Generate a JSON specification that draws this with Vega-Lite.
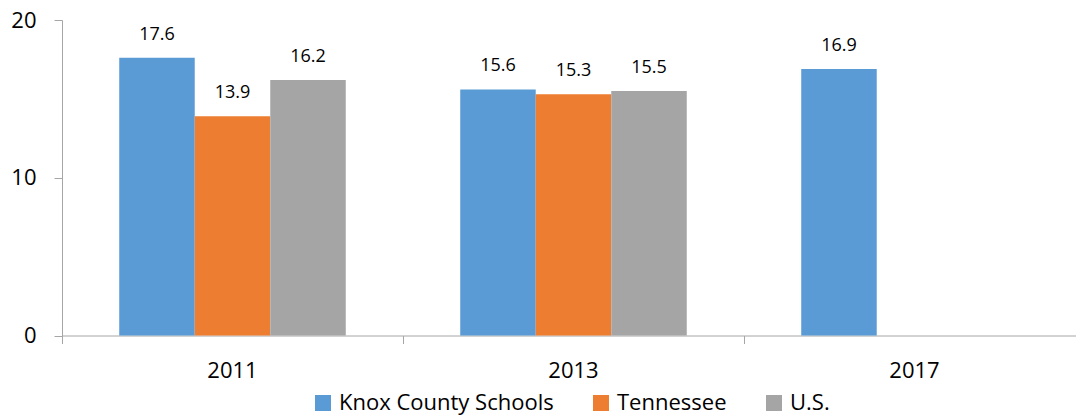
{
  "$schema": "https://vega.github.io/schema/vega-lite/v6.json",
  "autosize": {"type": "none"},
  "width": 1014,
  "height": 315.5,
  "padding": {"left": 62, "top": 20, "right": 0, "bottom": 81.5},
  "background": "white",
  "config": {
    "font": "Open Sans",
    "view": {"stroke": null}
  },
  "data": {
    "values": [
      {"year": "2011", "group": "Knox County Schools", "value": 17.6},
      {"year": "2011", "group": "Tennessee", "value": 13.9},
      {"year": "2011", "group": "U.S.", "value": 16.2},
      {"year": "2013", "group": "Knox County Schools", "value": 15.6},
      {"year": "2013", "group": "Tennessee", "value": 15.3},
      {"year": "2013", "group": "U.S.", "value": 15.5},
      {"year": "2017", "group": "Knox County Schools", "value": 16.9}
    ]
  },
  "encoding": {
    "x": {
      "field": "year",
      "type": "nominal",
      "scale": {"domain": ["2011", "2013", "2017"], "range": [0, 1023], "paddingInner": 0, "paddingOuter": 0},
      "axis": {
        "title": null,
        "labelAngle": 0,
        "bandPosition": 0,
        "tickSize": 8,
        "tickColor": "#A6A6A6",
        "domainColor": "#A6A6A6",
        "labelPadding": 17,
        "labelFontSize": 22,
        "labelColor": "#000000",
        "labelFont": "Open Sans"
      }
    },
    "xOffset": {
      "field": "group",
      "type": "nominal",
      "scale": {"domain": ["Knox County Schools", "Tennessee", "U.S."], "paddingInner": 0, "paddingOuter": 0.758}
    },
    "y": {
      "field": "value",
      "type": "quantitative",
      "scale": {"domain": [0, 20], "nice": false},
      "axis": {
        "title": null,
        "values": [0, 10, 20],
        "grid": false,
        "tickSize": 8,
        "tickColor": "#A6A6A6",
        "domainColor": "#A6A6A6",
        "labelPadding": 18,
        "labelFontSize": 22,
        "labelColor": "#000000",
        "labelFont": "Open Sans"
      }
    }
  },
  "layer": [
    {
      "mark": {"type": "bar"},
      "encoding": {
        "color": {
          "field": "group",
          "type": "nominal",
          "scale": {"domain": ["Knox County Schools", "Tennessee", "U.S."], "range": ["#5B9BD5", "#ED7D31", "#A5A5A5"]},
          "legend": {
            "title": null,
            "orient": "none",
            "legendX": 250,
            "legendY": 372,
            "direction": "horizontal",
            "symbolType": "square",
            "symbolSize": 256,
            "symbolStrokeWidth": 0,
            "labelFontSize": 22,
            "labelFont": "Open Sans",
            "labelColor": "#000000",
            "labelOffset": 5,
            "labelLimit": 400,
            "columnPadding": 36
          }
        }
      }
    },
    {
      "mark": {"type": "text", "baseline": "alphabetic", "dy": -18, "fontSize": 18, "color": "#000000"},
      "encoding": {
        "text": {"field": "value", "type": "quantitative", "format": ".1f"}
      }
    }
  ]
}
